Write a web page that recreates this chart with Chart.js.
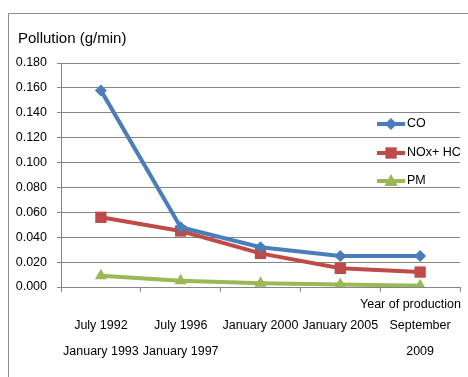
<!DOCTYPE html>
<html>
<head>
<meta charset="utf-8">
<script src="https://cdn.jsdelivr.net/npm/chart.js@4/dist/chart.umd.min.js"></script>
<style>
  html, body { margin: 0; padding: 0; background: #ffffff; }
  #wrap { width: 468px; height: 377px; position: relative; }
</style>
</head>
<body>
<div id="wrap"><canvas id="c" width="468" height="377"></canvas></div>
<script>
// Emission limits by year of production (g/min)
const categories = [
  ["July 1992", "January 1993"],
  ["July 1996", "January 1997"],
  ["January 2000"],
  ["January 2005"],
  ["September", "2009"]
];
const seriesNames = ["CO", "NOx+ HC", "PM"];
const coValues  = [0.158, 0.048, 0.032, 0.025, 0.025];
const noxValues = [0.056, 0.045, 0.027, 0.015, 0.012];
const pmValues  = [0.009, 0.005, 0.003, 0.002, 0.001];
const yTitle = "Pollution (g/min)";
const xTitle = "Year of production";

const FONT = '"Liberation Sans", Arial, sans-serif';
const FS = 12.5;
const GRID = '#858585';
const BLUE = '#4A7EBB', RED = '#BE4B48', GREEN = '#98B954';

function drawMarker(ctx, style, x, y, r, color) {
  ctx.save();
  ctx.fillStyle = color;
  ctx.beginPath();
  if (style === 'rectRot') {
    ctx.moveTo(x, y - r); ctx.lineTo(x + r, y); ctx.lineTo(x, y + r); ctx.lineTo(x - r, y);
  } else if (style === 'rect') {
    const s = r * Math.SQRT1_2;
    ctx.rect(x - s, y - s, 2 * s, 2 * s);
  } else {
    ctx.moveTo(x, y - r); ctx.lineTo(x + r * 0.95, y + r * 0.7); ctx.lineTo(x - r * 0.95, y + r * 0.7);
  }
  ctx.closePath();
  ctx.fill();
  ctx.restore();
}

const decorations = {
  id: 'decorations',
  beforeDraw(chart) {
    const ctx = chart.ctx;
    ctx.save();
    ctx.strokeStyle = '#8c8c8c';
    ctx.lineWidth = 1;
    ctx.beginPath();
    ctx.moveTo(8.5, 377); ctx.lineTo(8.5, 13.5); ctx.lineTo(468, 13.5);
    ctx.stroke();
    ctx.restore();
  },
  afterDraw(chart) {
    const ctx = chart.ctx;
    const area = chart.chartArea;
    ctx.save();
    ctx.fillStyle = '#000000';
    ctx.textBaseline = 'middle';
    ctx.font = '15px ' + FONT;
    ctx.textAlign = 'left';
    ctx.fillText(yTitle, 18, 39);
    ctx.font = FS + 'px ' + FONT;
    ctx.textAlign = 'right';
    ctx.fillText(xTitle, area.right + 1, 305);

    // legend inside the plot area
    const lx0 = 377, lx1 = 405, ys = [124, 153, 181];
    chart.data.datasets.forEach((ds, i) => {
      const y = ys[i];
      ctx.strokeStyle = ds.borderColor;
      ctx.lineWidth = ds.borderWidth;
      ctx.beginPath(); ctx.moveTo(lx0, y); ctx.lineTo(lx1, y); ctx.stroke();
      drawMarker(ctx, ds.pointStyle, (lx0 + lx1) / 2, y, ds.pointRadius, ds.pointBackgroundColor);
      ctx.fillStyle = '#000000';
      ctx.textAlign = 'left';
      ctx.font = FS + 'px ' + FONT;
      ctx.fillText(ds.label, lx1 + 2, y);
    });
    ctx.restore();
  }
};

new Chart(document.getElementById('c'), {
  type: 'line',
  data: {
    labels: categories,
    datasets: [
      { label: seriesNames[0], data: coValues, borderColor: BLUE, backgroundColor: BLUE,
        pointBackgroundColor: BLUE, pointBorderColor: BLUE, borderWidth: 4,
        pointStyle: 'rectRot', pointRadius: 6, pointBorderWidth: 0, tension: 0 },
      { label: seriesNames[1], data: noxValues, borderColor: RED, backgroundColor: RED,
        pointBackgroundColor: RED, pointBorderColor: RED, borderWidth: 4,
        pointStyle: 'rect', pointRadius: 8, pointBorderWidth: 0, tension: 0 },
      { label: seriesNames[2], data: pmValues, borderColor: GREEN, backgroundColor: GREEN,
        pointBackgroundColor: GREEN, pointBorderColor: GREEN, borderWidth: 4,
        pointStyle: 'triangle', pointRadius: 7, pointBorderWidth: 0, tension: 0 }
    ]
  },
  options: {
    responsive: false,
    animation: false,
    events: [],
    layout: { padding: { left: 8, top: 63, right: 7, bottom: 0 } },
    plugins: { legend: { display: false }, title: { display: false }, tooltip: { enabled: false } },
    scales: {
      x: {
        offset: true,
        grid: { display: true, drawOnChartArea: false, drawTicks: true, tickLength: 5, color: GRID, offset: true },
        border: { display: true, color: GRID, width: 1 },
        ticks: { color: '#000000', padding: 21, maxRotation: 0, autoSkip: false,
                 font: { family: FONT, size: FS, lineHeight: '26px' } },
        afterFit(scale) { scale.height = 90; scale.paddingLeft = 0; scale.paddingRight = 0; }
      },
      y: {
        min: 0, max: 0.18,
        grid: { color: GRID, tickLength: 4, drawTicks: true },
        border: { display: true, color: GRID, width: 1 },
        ticks: { stepSize: 0.02, color: '#000000', padding: 10,
                 font: { family: FONT, size: FS },
                 callback: v => Number(v).toFixed(3) },
        afterFit(scale) { scale.width = 53; scale.paddingTop = 0; scale.paddingBottom = 0; }
      }
    }
  },
  plugins: [decorations]
});
</script>
</body>
</html>
